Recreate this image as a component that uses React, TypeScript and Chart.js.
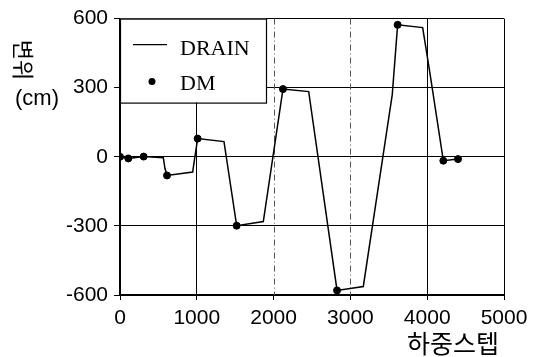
import React, { useEffect, useRef } from "react";
import { Chart, registerables } from "chart.js";

Chart.register(...registerables);

const drainX = [0, 108, 308, 564, 585, 612, 946, 975, 1011, 1354, 1519, 1866, 2122, 2457, 2826, 3168, 3545, 3615, 3941, 4037, 4210, 4401];
const drainY = [0, -7, 1, -4, -50, -81, -66, 0, 79, 66, -299, -281, 294, 283, -580, -563, 270, 573, 561, 360, -17, -10];
const dmX = [0, 108, 308, 612, 1011, 1519, 2122, 2826, 3615, 4210, 4401];
const dmY = [0, -7, 1, -81, 79, -299, 294, -580, 573, -17, -10];
const xTicks = [0, 1000, 2000, 3000, 4000, 5000];
const yTicks = [-600, -300, 0, 300, 600];
const dashedX = [2000, 3000];
const seriesNames = ["DRAIN", "DM"];
const yTitle = "변위";
const yUnit = "(cm)";
const xTitle = "하중스텝";

const overlay = {
  id: "overlay",
  beforeDatasetsDraw(chart: any) {
    const { ctx, scales, chartArea } = chart;
    ctx.save();
    ctx.strokeStyle = "#555";
    ctx.lineWidth = 1;
    ctx.setLineDash([6, 3, 1, 3]);
    dashedX.forEach((v) => {
      const px = Math.round(scales.x.getPixelForValue(v)) + 0.5;
      ctx.beginPath();
      ctx.moveTo(px, chartArea.top);
      ctx.lineTo(px, chartArea.bottom);
      ctx.stroke();
    });
    ctx.restore();
  },
  afterDatasetsDraw(chart: any) {
    const { ctx, chartArea } = chart;
    ctx.save();
    // legend box
    const lx = chartArea.left, ly = chartArea.top;
    const lw = 146, lh = 84;
    ctx.fillStyle = "#fff";
    ctx.fillRect(lx, ly, lw, lh);
    ctx.strokeStyle = "#000";
    ctx.lineWidth = 1.2;
    ctx.strokeRect(lx + 0.5, ly + 0.5, lw, lh);
    ctx.lineWidth = 1.3;
    ctx.beginPath();
    ctx.moveTo(lx + 13, ly + 26);
    ctx.lineTo(lx + 47, ly + 26);
    ctx.stroke();
    ctx.fillStyle = "#000";
    ctx.beginPath();
    ctx.arc(lx + 32, ly + 63, 3.5, 0, Math.PI * 2);
    ctx.fill();
    ctx.font = '22px "Liberation Serif", serif';
    ctx.textBaseline = "alphabetic";
    ctx.textAlign = "left";
    ctx.fillText(seriesNames[0], lx + 60, ly + 36);
    ctx.fillText(seriesNames[1], lx + 60, ly + 71);
    // axis titles
    ctx.font = '22px "Noto Sans CJK KR", sans-serif';
    ctx.save();
    ctx.translate(23, 60);
    ctx.rotate(Math.PI / 2);
    ctx.textAlign = "center";
    ctx.textBaseline = "middle";
    ctx.fillText(yTitle, 0, 0);
    ctx.restore();
    ctx.font = '22px "Liberation Sans", sans-serif';
    ctx.textAlign = "center";
    ctx.textBaseline = "middle";
    ctx.fillText(yUnit, 37, 99);
    ctx.font = '25px "Noto Sans CJK KR", sans-serif';
    ctx.textAlign = "center";
    ctx.fillText(xTitle, 453, 343);
    ctx.restore();
  },
};

export default function App() {
  const ref = useRef<HTMLCanvasElement>(null);
  useEffect(() => {
    const chart = new Chart(ref.current!, {
      type: "scatter",
      data: {
        datasets: [
          {
            label: seriesNames[0],
            data: drainX.map((x, i) => ({ x, y: drainY[i] })),
            showLine: true,
            borderColor: "#000",
            borderWidth: 1.5,
            pointRadius: 0,
            tension: 0,
          },
          {
            label: seriesNames[1],
            data: dmX.map((x, i) => ({ x, y: dmY[i] })),
            showLine: false,
            backgroundColor: "#000",
            borderColor: "#000",
            pointRadius: 3.5,
          },
        ],
      },
      options: {
        animation: false,
        responsive: false,
        layout: { padding: { top: 17, right: 35, left: 0, bottom: 0 } },
        plugins: { legend: { display: false }, tooltip: { enabled: false } },
        scales: {
          x: {
            type: "linear",
            min: 0,
            max: 5000,
            afterBuildTicks: (s: any) => {
              s.ticks = xTicks.map((v) => ({ value: v }));
            },
            afterFit: (s: any) => {
              s.height = 62;
            },
            ticks: {
              color: "#000",
              font: { family: '"Liberation Sans", sans-serif', size: 21 },
              padding: 6,
              maxRotation: 0,
              callback: (v: any) => String(v),
            },
            grid: {
              color: (c: any) =>
                dashedX.includes(c.tick?.value) ? "rgba(0,0,0,0)" : "#000",
              lineWidth: 1,
              tickLength: 5,
              tickColor: "#000",
            },
            border: { color: "#000", width: 2 },
          },
          y: {
            type: "linear",
            min: -600,
            max: 600,
            afterBuildTicks: (s: any) => {
              s.ticks = yTicks.map((v) => ({ value: v }));
            },
            afterFit: (s: any) => {
              s.width = 120;
            },
            ticks: {
              color: "#000",
              font: { family: '"Liberation Sans", sans-serif', size: 21 },
              padding: 6,
              callback: (v: any) => String(v),
            },
            grid: {
              color: "#000",
              lineWidth: 1,
              tickLength: 6,
              tickColor: "#000",
            },
            border: { color: "#000", width: 2 },
          },
        },
      },
      plugins: [overlay],
    });
    return () => chart.destroy();
  }, []);
  return (
    <div style={{ position: "absolute", left: 0, top: 0, width: 539, height: 357, background: "#fff" }}>
      <canvas ref={ref} width={539} height={357} />
    </div>
  );
}
